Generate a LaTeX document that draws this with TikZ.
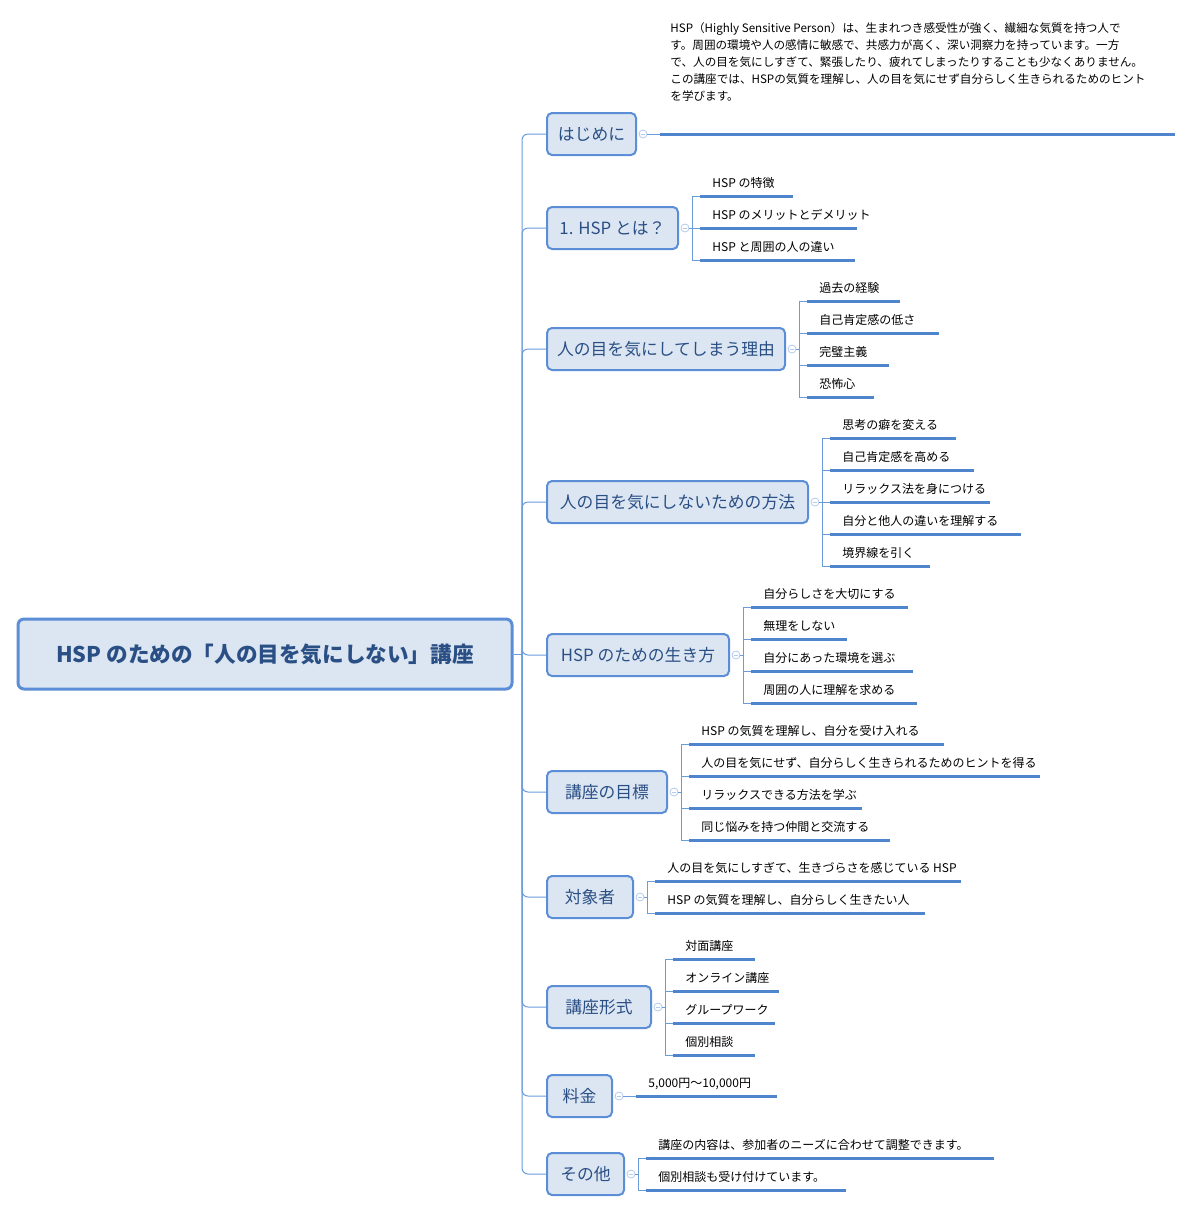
\documentclass[tikz,border=0pt]{standalone}
\usepackage{fontspec}
\setmainfont{Noto Sans CJK JP}
\definecolor{bfill}{HTML}{DCE6F2}
\definecolor{bdraw}{HTML}{5B8ED6}
\definecolor{btext}{HTML}{2A4F85}
\definecolor{lline}{HTML}{4F85CC}
\definecolor{cline}{HTML}{6A9BDB}
\definecolor{ccirc}{HTML}{B4CAEC}
\tikzset{
 conn/.style={draw=cline,line width=0.5pt},
 leafline/.style={draw=lline,line width=1.5pt},
 leaftext/.style={font=\fontsize{6}{8.5}\selectfont,inner sep=0pt,anchor=base west},
 brbox/.style={draw=bdraw,fill=bfill,line width=1pt,rounded corners=2.5pt,text=btext,font=\fontsize{8.4}{10}\selectfont,minimum height=21pt,inner sep=0pt},
 coll/.style={circle,draw=ccirc,fill=white,line width=0.4pt,minimum size=4pt,inner sep=0pt,
   path picture={\draw[ccirc,line width=0.4pt]([xshift=-1.2pt]path picture bounding box.center)--([xshift=1.2pt]path picture bounding box.center);}},
}
\newcommand\br[4]{% name, right x, center y, text
 \node[brbox,minimum width={(#2-547)*0.5pt}] (#1) at ({(547+#2)/2},#3) {#4};
 \node[coll] (#1c) at (#2+7,#3) {};
 \draw[conn,rounded corners=3pt] (trunk) |- (#1.west);
}
\newcommand\lf[6]{% name, junction, x0, x1, y, text
 \coordinate (#1s) at (#3,#5); \coordinate (#1e) at (#4,#5);
 \draw[leafline] (#1s)--(#1e);
 \node[leaftext] (#1t) at (#3+12,#5-9) {#6};
 \draw[conn] (#2) |- (#1s);
}
\begin{document}
\begin{tikzpicture}[x=0.5pt,y=-0.5pt]
\useasboundingbox (0,0) rectangle (1192,1212);
\node[draw=bdraw,fill=bfill,line width=1.5pt,rounded corners=3pt,minimum width=247pt,minimum height=35pt,text=btext,font=\fontsize{10.8}{12}\selectfont\bfseries] (root) at (265,654) {HSP のための「人の目を気にしない」講座};
\coordinate (trunk) at (522,654);
\draw[conn] (root.east) -- (trunk);
% はじめに
\br{b1}{636}{134}{はじめに}
\coordinate (b1s) at (660,134); \coordinate (b1e) at (1175,134);
\draw[leafline] (b1s)--(b1e);
\draw[conn] (b1c.east)--(b1s);
\node[leaftext,anchor=north west,align=left,font=\fontsize{5.8}{8.5}\selectfont] (b1t) at (670,22) {HSP（Highly Sensitive Person）は、生まれつき感受性が強く、繊細な気質を持つ人で\\す。周囲の環境や人の感情に敏感で、共感力が高く、深い洞察力を持っています。一方\\で、人の目を気にしすぎて、緊張したり、疲れてしまったりすることも少なくありません。\\この講座では、HSPの気質を理解し、人の目を気にせず自分らしく生きられるためのヒント\\を学びます。};
% 1
\br{b2}{678}{228}{1. HSP とは？}
\coordinate (j2) at (692,228); \draw[conn] (b2c.east)--(j2);
\lf{l21}{j2}{700}{793}{196}{HSP の特徴}
\lf{l22}{j2}{700}{857}{228}{HSP のメリットとデメリット}
\lf{l23}{j2}{700}{855}{260}{HSP と周囲の人の違い}
% 2
\br{b3}{785}{349}{人の目を気にしてしまう理由}
\coordinate (j3) at (799,349); \draw[conn] (b3c.east)--(j3);
\lf{l31}{j3}{807}{900}{301}{過去の経験}
\lf{l32}{j3}{807}{939}{333}{自己肯定感の低さ}
\lf{l33}{j3}{807}{889}{365}{完璧主義}
\lf{l34}{j3}{807}{874}{397}{恐怖心}
% 3
\br{b4}{808}{502}{人の目を気にしないための方法}
\coordinate (j4) at (822,502); \draw[conn] (b4c.east)--(j4);
\lf{l41}{j4}{830}{956}{438}{思考の癖を変える}
\lf{l42}{j4}{830}{974}{470}{自己肯定感を高める}
\lf{l43}{j4}{830}{990}{502}{リラックス法を身につける}
\lf{l44}{j4}{830}{1021}{534}{自分と他人の違いを理解する}
\lf{l45}{j4}{830}{930}{566}{境界線を引く}
% 4
\br{b5}{729}{655}{HSP のための生き方}
\coordinate (j5) at (743,655); \draw[conn] (b5c.east)--(j5);
\lf{l51}{j5}{751}{908}{607}{自分らしさを大切にする}
\lf{l52}{j5}{751}{847}{639}{無理をしない}
\lf{l53}{j5}{751}{913}{671}{自分にあった環境を選ぶ}
\lf{l54}{j5}{751}{917}{703}{周囲の人に理解を求める}
% 5
\br{b6}{667}{792}{講座の目標}
\coordinate (j6) at (681,792); \draw[conn] (b6c.east)--(j6);
\lf{l61}{j6}{689}{944}{744}{HSP の気質を理解し、自分を受け入れる}
\lf{l62}{j6}{689}{1040}{776}{人の目を気にせず、自分らしく生きられるためのヒントを得る}
\lf{l63}{j6}{689}{862}{808}{リラックスできる方法を学ぶ}
\lf{l64}{j6}{689}{890}{840}{同じ悩みを持つ仲間と交流する}
% 6
\br{b7}{633}{897}{対象者}
\coordinate (j7) at (647,897); \draw[conn] (b7c.east)--(j7);
\lf{l71}{j7}{655}{961}{881}{人の目を気にしすぎて、生きづらさを感じている HSP}
\lf{l72}{j7}{655}{925}{913}{HSP の気質を理解し、自分らしく生きたい人}
% 7
\br{b8}{651}{1007}{講座形式}
\coordinate (j8) at (665,1007); \draw[conn] (b8c.east)--(j8);
\lf{l81}{j8}{673}{755}{959}{対面講座}
\lf{l82}{j8}{673}{779}{991}{オンライン講座}
\lf{l83}{j8}{673}{775}{1023}{グループワーク}
\lf{l84}{j8}{673}{755}{1055}{個別相談}
% 8
\br{b9}{612}{1096}{料金}
\coordinate (b9s) at (636,1096); \coordinate (b9e) at (777,1096);
\draw[leafline] (b9s)--(b9e);
\draw[conn] (b9c.east)--(b9s);
\node[leaftext] (b9t) at (648,1087) {5,000円～10,000円};
% 9
\br{b10}{624}{1174}{その他}
\coordinate (j10) at (638,1174); \draw[conn] (b10c.east)--(j10);
\lf{l101}{j10}{646}{994}{1158}{講座の内容は、参加者のニーズに合わせて調整できます。}
\lf{l102}{j10}{646}{846}{1190}{個別相談も受け付けています。}
\end{tikzpicture}
\end{document}
